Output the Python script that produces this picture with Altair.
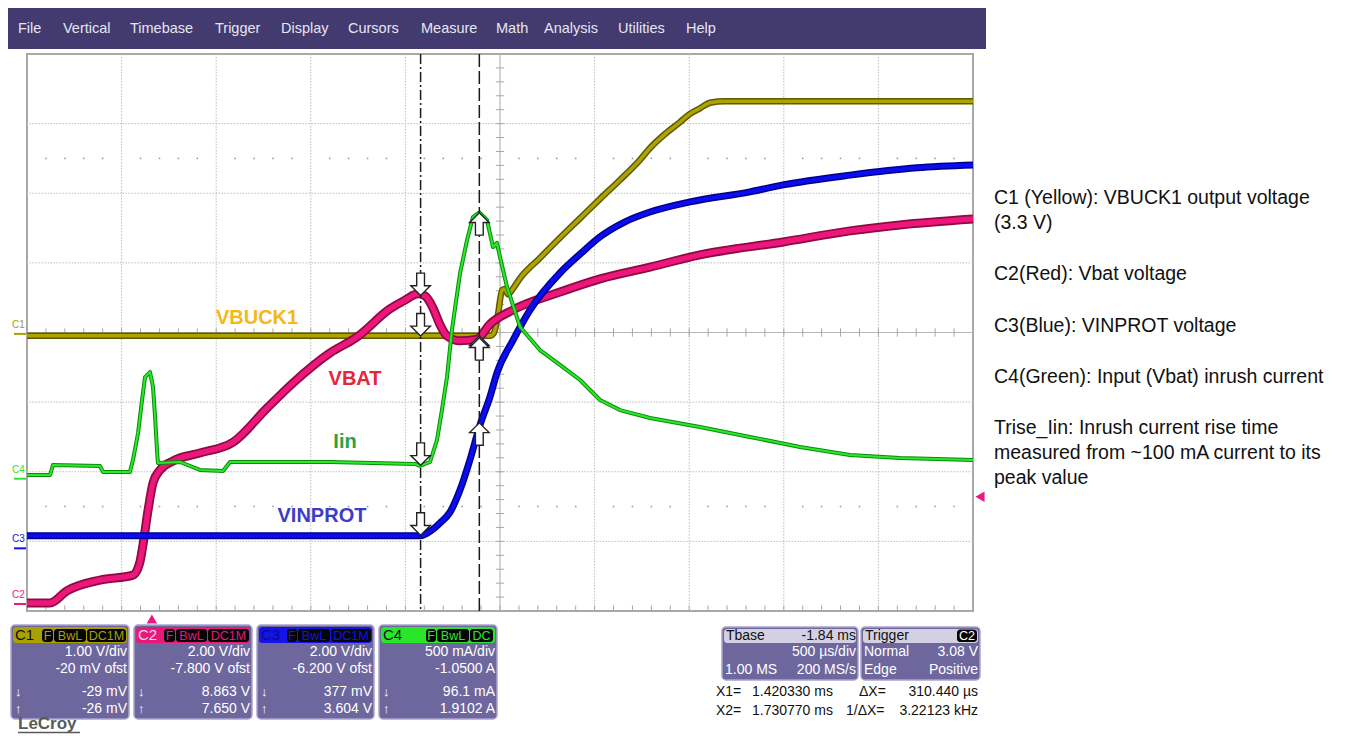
import altair as alt
import pandas as pd

# ---------------- scope settings ----------------
ch_names = ["C1", "C2", "C3", "C4"]
ch_vdiv = [1.00, 2.00, 2.00, 0.500]          # V/div (A/div for C4)
ch_ofst = [-0.020, -7.800, -6.200, -1.0500]  # offset
t_div = 0.5        # ms/div
t_center = 1.84    # ms at screen centre (Tbase -1.84 ms)
t_min, t_max = t_center - 5 * t_div, t_center + 5 * t_div

# ---------------- traces (time in ms, value in V / A) ----------------
c1_t = [-0.660, 1.787, 1.808, 1.829, 1.851, 1.866, 1.882, 1.903, 1.946, 2.051, 2.157, 2.263,
        2.369, 2.474, 2.580, 2.633, 2.712, 2.791, 2.844, 2.897, 2.950, 3.029, 4.340]
c1_v = [-0.028, -0.028, 0.013, 0.27, 0.63, 0.645, 0.57, 0.63, 0.80, 1.09, 1.38, 1.66,
        1.94, 2.21, 2.50, 2.67, 2.87, 3.04, 3.16, 3.24, 3.32, 3.34, 3.34]

c2_t = [-0.660, -0.538, -0.449, -0.274, -0.100, -0.073, -0.063, -0.047, -0.020, 0.006, 0.043,
        0.112, 0.254, 0.429, 0.609, 0.746, 0.941, 1.084, 1.259, 1.338, 1.407, 1.444, 1.486,
        1.523, 1.560, 1.629, 1.718, 1.787, 1.909, 2.157, 2.369, 2.633, 2.897, 3.336, 3.690,
        3.954, 4.340]
c2_v = [0.03, 0.03, 0.38, 0.69, 0.83, 1.04, 1.21, 1.70, 2.70, 3.48, 3.85,
        4.11, 4.34, 4.65, 5.63, 6.35, 7.21, 7.67, 8.48, 8.73, 8.91, 8.85, 8.50,
        8.02, 7.70, 7.56, 7.61, 8.04, 8.45, 8.96, 9.34, 9.68, 10.03, 10.40, 10.72,
        10.89, 11.06]

c3_t = [-0.660, 1.417, 1.481, 1.523, 1.576, 1.629, 1.681, 1.734, 1.787, 1.824, 1.909, 1.999,
        2.157, 2.263, 2.369, 2.501, 2.633, 2.844, 3.161, 3.336, 3.690, 4.044, 4.340]
c3_v = [0.36, 0.36, 0.53, 0.73, 1.04, 1.68, 2.54, 3.54, 4.35, 5.04, 5.98, 6.85,
        7.91, 8.45, 8.95, 9.38, 9.66, 9.95, 10.24, 10.44, 10.72, 10.93, 11.01]

c4_t = [-0.660, -0.538, -0.523, -0.274, -0.258, -0.116, -0.100, -0.073, -0.052, -0.036, -0.010,
        0.006, 0.017, 0.027, 0.032, 0.149, 0.254, 0.376, 0.413, 0.941, 1.391, 1.417, 1.470,
        1.507, 1.533, 1.560, 1.586, 1.629, 1.666, 1.697, 1.731, 1.771, 1.803, 1.824, 1.840,
        1.877, 1.946, 2.051, 2.157, 2.263, 2.369, 2.474, 2.633, 2.897, 3.161, 3.426, 3.690,
        3.954, 4.340]
c4_v = [0.027, 0.027, 0.099, 0.091, 0.048, 0.048, 0.134, 0.328, 0.565, 0.730, 0.766,
        0.659, 0.443, 0.206, 0.113, 0.120, 0.063, 0.056, 0.120, 0.120, 0.106, 0.092, 0.120,
        0.278, 0.493, 0.730, 1.068, 1.477, 1.714, 1.879, 1.912, 1.858, 1.664, 1.693, 1.592,
        1.377, 1.090, 0.924, 0.817, 0.709, 0.565, 0.493, 0.436, 0.371, 0.300, 0.228, 0.170,
        0.149, 0.134]

# cursors and their readouts
cursor_t = [1.420330, 1.730770]
x1_read = [-0.029, 8.863, 0.377, 0.0961]
x2_read = [-0.026, 7.650, 3.604, 1.9102]
trig_time = 0.0
trig_level = 3.08   # on C2

trace_labels = ["VBUCK1", "VBAT", "Iin", "VINPROT"]
note_lines = ["C1 (Yellow): VBUCK1 output voltage", "(3.3 V)", "C2(Red): Vbat voltage",
              "C3(Blue): VINPROT voltage", "C4(Green): Input (Vbat) inrush current",
              "Trise_Iin: Inrush current rise time", "measured from ~100 mA current to its",
              "peak value"]
menu_items = ["File", "Vertical", "Timebase", "Trigger", "Display", "Cursors", "Measure",
              "Math", "Analysis", "Utilities", "Help"]
box_lines = [["1.00 V/div", "-20 mV ofst", "-29 mV", "-26 mV"],
             ["2.00 V/div", "-7.800 V ofst", "8.863 V", "7.650 V"],
             ["2.00 V/div", "-6.200 V ofst", "377 mV", "3.604 V"],
             ["500 mA/div", "-1.0500 A", "96.1 mA", "1.9102 A"]]
box_tags = [["F", "BwL", "DC1M"], ["F", "BwL", "DC1M"], ["F", "BwL", "DC1M"], ["F", "BwL", "DC"]]

# ---------------- styling ----------------
FONT = "Liberation Sans, Arial, sans-serif"
bright = ["#ADA400", "#EC167C", "#0C0CF2", "#2BE82B"]
dark = ["#5F5900", "#8E0A40", "#00008A", "#0A8C0A"]
w_dark = [6.5, 9, 7, 4]
w_bright = [3.5, 5.5, 4, 2]
interp = ["monotone", "monotone", "monotone", "linear"]
head_col = ["#AAA000", "#E8197B", "#1414E6", "#2AE62A"]
head_txt = ["#111111", "#F6D6E6", "#0A0A8C", "#111111"]
lab_col = ["#F4B818", "#E62538", "#2EA043", "#3C3CC6"]

PW, PH = 946, 557
ORX, ORY = 27, 54   # page position of the plot's top-left corner


def to_div(v, i):
    return (v + ch_ofst[i]) / ch_vdiv[i]


xs = alt.Scale(domain=[t_min, t_max], nice=False, zero=False)
ys = alt.Scale(domain=[-4, 4], nice=False, zero=False)


def X(f="t"):
    return alt.X(f"{f}:Q", scale=xs, axis=None)


def Y(f="d"):
    return alt.Y(f"{f}:Q", scale=ys, axis=None)


def PX(f="x"):
    return alt.X(f"{f}:Q", scale=None, axis=None)


def PY(f="y"):
    return alt.Y(f"{f}:Q", scale=None, axis=None)


layers = []

# ---------------- graticule ----------------
grid_v = pd.DataFrame({"t": [t_min + k * t_div for k in range(1, 10) if k != 5]})
grid_h = pd.DataFrame({"d": [k for k in range(-3, 4) if k != 0]})
layers.append(alt.Chart(grid_v).mark_rule(color="#BDBDBD", strokeWidth=1, strokeDash=[1.5, 1.5]).encode(x=X()))
layers.append(alt.Chart(grid_h).mark_rule(color="#BDBDBD", strokeWidth=1, strokeDash=[1.5, 1.5]).encode(y=Y()))
layers.append(alt.Chart(pd.DataFrame({"t": [t_center]})).mark_rule(color="#B8B8B8", strokeWidth=1.2).encode(x=X()))
layers.append(alt.Chart(pd.DataFrame({"d": [0.0]})).mark_rule(color="#B8B8B8", strokeWidth=1.2).encode(y=Y()))

tick_t = [t_min + k * t_div / 5 for k in range(1, 50)]
ticks_h = pd.DataFrame({"t": tick_t * 2,
                        "d": [-0.06] * 49 + [-4.0] * 49,
                        "d2": [0.06] * 49 + [-3.92] * 49})
layers.append(alt.Chart(ticks_h).mark_rule(color="#A8A8A8", strokeWidth=1).encode(x=X(), y=Y(), y2=alt.Y2("d2")))
tick_d = [-4 + k * 0.2 for k in range(1, 40)]
ticks_v = pd.DataFrame({"d": tick_d, "t": t_center - 0.022, "t2": t_center + 0.022})
layers.append(alt.Chart(ticks_v).mark_rule(color="#A8A8A8", strokeWidth=1).encode(y=Y(), x=X(), x2=alt.X2("t2")))
dots = pd.DataFrame([{"t": t_min + k * t_div / 5, "d": dd}
                     for k in range(1, 50) if k % 5 != 0 for dd in (-2.5, 2.5)])
layers.append(alt.Chart(dots).mark_square(size=2.5, color="#9C9C9C", opacity=1).encode(x=X(), y=Y()))

# ---------------- traces ----------------
series = [(c1_t, c1_v), (c2_t, c2_v), (c3_t, c3_v), (c4_t, c4_v)]
for i, (tt, vv) in enumerate(series):
    df = pd.DataFrame({"t": tt, "d": [to_div(v, i) for v in vv], "o": range(len(tt))})
    base = alt.Chart(df)
    layers.append(base.mark_line(color=dark[i], strokeWidth=w_dark[i], strokeJoin="round",
                                 interpolate=interp[i])
                  .encode(x=X(), y=Y(), order="o:Q"))
    layers.append(base.mark_line(color=bright[i], strokeWidth=w_bright[i], strokeJoin="round",
                                 interpolate=interp[i])
                  .encode(x=X(), y=Y(), order="o:Q"))

# ---------------- trace labels ----------------
lab_df = pd.DataFrame({"text": trace_labels, "t": [0.556, 1.074, 1.021, 0.899],
                       "d": [0.208, -0.668, -1.573, -2.636], "c": lab_col})
layers.append(alt.Chart(lab_df).mark_text(font=FONT, fontSize=20, fontWeight="bold", baseline="middle")
              .encode(x=X(), y=Y(), text="text:N", color=alt.Color("c:N", scale=None)))

# ---------------- cursors ----------------
layers.append(alt.Chart(pd.DataFrame({"t": [cursor_t[0]]}))
              .mark_rule(color="#1A1A1A", strokeWidth=1.5, strokeDash=[10, 3, 2, 3]).encode(x=X()))
layers.append(alt.Chart(pd.DataFrame({"t": [cursor_t[1]]}))
              .mark_rule(color="#1A1A1A", strokeWidth=1.5, strokeDash=[13, 4]).encode(x=X()))

down_path = "M0,0L-1,-1L-0.4,-1L-0.4,-2.3L0.4,-2.3L0.4,-1L1,-1Z"
up_path = "M0,0L-1,1L-0.4,1L-0.4,2.3L0.4,2.3L0.4,1L1,1Z"
arr_dn = pd.DataFrame({"t": cursor_t[0], "d": [to_div(v, i) for i, v in enumerate(x1_read)]})
arr_up = pd.DataFrame({"t": cursor_t[1], "d": [to_div(v, i) for i, v in enumerate(x2_read)]})
layers.append(alt.Chart(arr_dn).mark_point(shape=down_path, size=380, filled=True, fill="white",
                                           stroke="#222222", strokeWidth=1.4, opacity=1)
              .encode(x=X(), y=Y()))
layers.append(alt.Chart(arr_up).mark_point(shape=up_path, size=380, filled=True, fill="white",
                                           stroke="#222222", strokeWidth=1.4, opacity=1)
              .encode(x=X(), y=Y()))

# ---------------- trigger markers & channel ground markers ----------------
layers.append(alt.Chart(pd.DataFrame({"t": [trig_time]}))
              .mark_point(shape="triangle-up", filled=True, color="#EC167C", size=110, opacity=1)
              .encode(x=X(), y=alt.value(PH + 8)))
layers.append(alt.Chart(pd.DataFrame({"d": [to_div(trig_level, 1)]}))
              .mark_point(shape="triangle-left", filled=True, color="#EC167C", size=110, opacity=1)
              .encode(x=alt.value(PW + 7), y=Y()))
gnd = pd.DataFrame({"name": ch_names, "d": [to_div(0.0, i) for i in range(4)], "c": head_col})
layers.append(alt.Chart(gnd).mark_rule(strokeWidth=2)
              .encode(y=Y(), x=alt.value(-13), x2=alt.value(-1), color=alt.Color("c:N", scale=None)))
layers.append(alt.Chart(gnd).mark_text(font=FONT, fontSize=10, align="left", baseline="middle", dy=-9)
              .encode(y=Y(), x=alt.value(-15), text="name:N", color=alt.Color("c:N", scale=None)))

# ---------------- instrument chrome (page pixel layout) ----------------
def rx(v):
    return v - ORX


def ry(v):
    return v - ORY


menu = pd.DataFrame({"x": [rx(8)], "x2": [rx(986)], "y": [ry(8)], "y2": [ry(49)]})
layers.append(alt.Chart(menu).mark_rect(color="#433A70")
              .encode(x=PX(), x2=alt.X2("x2"), y=PY(), y2=alt.Y2("y2")))

box_x = [(11, 129), (134, 252), (257, 374), (379, 497)]
rects = []
for (a, b) in box_x:
    rects.append({"x": rx(a), "x2": rx(b), "y": ry(625), "y2": ry(719)})
rects.append({"x": rx(722), "x2": rx(858), "y": ry(627), "y2": ry(680)})
rects.append({"x": rx(861), "x2": rx(980), "y": ry(627), "y2": ry(680)})
layers.append(alt.Chart(pd.DataFrame(rects)).mark_rect(color="#6D679E", stroke="#A9A4CC",
                                                       strokeWidth=1.5, cornerRadius=4)
              .encode(x=PX(), x2=alt.X2("x2"), y=PY(), y2=alt.Y2("y2")))

heads = []
for i, (a, b) in enumerate(box_x):
    heads.append({"x": rx(a + 2), "x2": rx(b - 2), "y": ry(627), "y2": ry(643), "c": head_col[i]})
heads.append({"x": rx(724), "x2": rx(856), "y": ry(629), "y2": ry(643), "c": "#D2D0E2"})
heads.append({"x": rx(863), "x2": rx(978), "y": ry(629), "y2": ry(643), "c": "#D2D0E2"})
layers.append(alt.Chart(pd.DataFrame(heads)).mark_rect(cornerRadius=3)
              .encode(x=PX(), x2=alt.X2("x2"), y=PY(), y2=alt.Y2("y2"), color=alt.Color("c:N", scale=None)))

tag_x = [[(42, 53), (54, 86), (87, 126)], [(164, 175), (176, 207), (208, 249)],
         [(287, 297), (298, 330), (331, 371)], [(426, 436), (437, 469), (470, 493)]]
tags, tag_txt = [], []
for i in range(4):
    for j, (a, b) in enumerate(tag_x[i]):
        tags.append({"x": rx(a), "x2": rx(b), "y": ry(629), "y2": ry(642)})
        tag_txt.append({"x": rx((a + b) / 2), "y": ry(635.5), "text": box_tags[i][j], "c": head_col[i]})
tags.append({"x": rx(957), "x2": rx(977), "y": ry(629.5), "y2": ry(642)})
layers.append(alt.Chart(pd.DataFrame(tags)).mark_rect(color="#050505", cornerRadius=3)
              .encode(x=PX(), x2=alt.X2("x2"), y=PY(), y2=alt.Y2("y2")))
tag_txt.append({"x": rx(967), "y": ry(636), "text": "C2", "c": "#FFFFFF"})
layers.append(alt.Chart(pd.DataFrame(tag_txt)).mark_text(font=FONT, fontSize=12.5, align="center",
                                                          baseline="middle")
              .encode(x=PX(), y=PY(), text="text:N", color=alt.Color("c:N", scale=None)))

# text items: x, y, text, colour, size, align
texts = []
menu_x = [18, 63, 130, 215, 281, 348, 421, 496, 544, 618, 686]
for s, xx in zip(menu_items, menu_x):
    texts.append((xx, 29, s, "#E6E6F2", 14.5, "left"))
for i, (a, b) in enumerate(box_x):
    texts.append((a + 4, 635, ch_names[i], head_txt[i], 15, "left"))
    ys_ = [652, 669, 692, 709]
    for k, s in enumerate(box_lines[i]):
        texts.append((b - 2, ys_[k], s, "#FFFFFF", 14, "right"))
    texts.append((a + 4, 692, "\u2193", "#FFFFFF", 13, "left"))
    texts.append((a + 4, 709, "\u2191", "#FFFFFF", 13, "left"))
texts += [(726, 636, "Tbase", "#111111", 14, "left"), (856, 636, "-1.84 ms", "#111111", 14, "right"),
          (856, 652, "500 \u00b5s/div", "#FFFFFF", 14, "right"),
          (725, 670, "1.00 MS", "#FFFFFF", 14, "left"), (856, 670, "200 MS/s", "#FFFFFF", 14, "right"),
          (865, 636, "Trigger", "#111111", 14, "left"),
          (864, 652, "Normal", "#FFFFFF", 14, "left"), (978, 652, "3.08 V", "#FFFFFF", 14, "right"),
          (864, 670, "Edge", "#FFFFFF", 14, "left"), (978, 670, "Positive", "#FFFFFF", 14, "right"),
          (716, 692, "X1=", "#111111", 14, "left"), (752, 692, "1.420330 ms", "#111111", 14, "left"),
          (859, 692, "\u0394X=", "#111111", 14, "left"), (978, 692, "310.440 \u00b5s", "#111111", 14, "right"),
          (716, 711, "X2=", "#111111", 14, "left"), (752, 711, "1.730770 ms", "#111111", 14, "left"),
          (846, 711, "1/\u0394X=", "#111111", 14, "left"), (978, 711, "3.22123 kHz", "#111111", 14, "right")]
note_y = [198, 223, 274, 326, 377, 428, 453, 478]
for s, yy in zip(note_lines, note_y):
    texts.append((994, yy, s, "#111111", 19.5, "left"))

tdf = pd.DataFrame(texts, columns=["x", "y", "text", "c", "s", "al"])
tdf["x"] = tdf["x"] - ORX
tdf["y"] = tdf["y"] - ORY
for al in ["left", "right"]:
    sub = tdf[tdf["al"] == al]
    layers.append(alt.Chart(sub).mark_text(font=FONT, align=al, baseline="middle")
                  .encode(x=PX(), y=PY(), text="text:N", color=alt.Color("c:N", scale=None),
                          size=alt.Size("s:Q", scale=None)))

# LeCroy logo
logo = pd.DataFrame({"x": [rx(18)], "y": [ry(724)], "text": ["LeCroy"]})
layers.append(alt.Chart(logo).mark_text(font=FONT, fontSize=17, fontWeight="bold", align="left",
                                        baseline="middle", color="#5A5A5A")
              .encode(x=PX(), y=PY(), text="text:N"))
uline = pd.DataFrame({"x": [rx(18)], "x2": [rx(80)], "y": [ry(732.5)]})
layers.append(alt.Chart(uline).mark_rule(color="#5A5A5A", strokeWidth=1.5)
              .encode(x=PX(), x2=alt.X2("x2"), y=PY()))

chart = (alt.layer(*layers)
         .properties(width=PW, height=PH, background="white",
                     padding={"left": 19, "top": 46, "right": 383, "bottom": 123},
                     autosize=alt.AutoSizeParams(type="none"))
         .configure_view(stroke="#A9A9A9", strokeWidth=2))

chart.save("out.html", embed_options={"renderer": "svg", "actions": False})
